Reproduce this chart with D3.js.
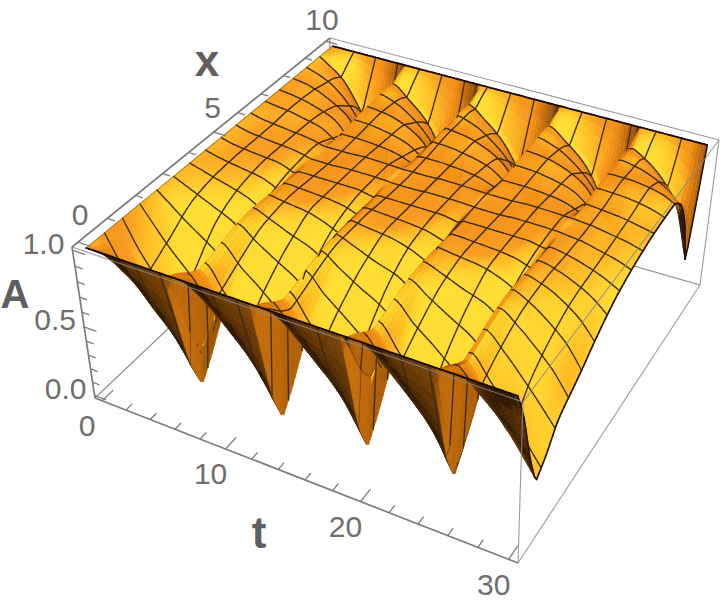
<!DOCTYPE html>
<html><head><meta charset="utf-8">
<style>html,body{margin:0;padding:0;background:#fff}svg{display:block}</style>
<script src="https://cdn.jsdelivr.net/npm/d3@7/dist/d3.min.js"></script>
</head><body><svg id="c" width="722" height="600"></svg>
<script>
const tSamples=[0,1,2,3.2,4.6,6,6.3,7.7,9.2,10.7,12.2,12.5,14,15.5,17.1,18.6,18.9,20.4,21.9,23.4,24.8,25.1,26.5,27.7,28.9,30];
const xSamples=[0,.3,.66,1,1.5,2,3,4,5,6,7,8,8.5,9,9.4,9.7,10];
const rowX00=[1,1,1,1,1,1,1,1,1,1,1,1,1,1,1,1,1,1,1,1,1,1,1,1,1,1];
const rowX03=[1,.92,.86,.8,.74,.66,.97,.88,.8,.74,.66,.97,.88,.8,.74,.66,.97,.88,.8,.74,.66,.97,.92,.88,.85,.82];
const rowX07=[1,.84,.74,.6,.46,.26,.92,.76,.62,.47,.26,.92,.76,.62,.47,.26,.92,.76,.62,.47,.26,.92,.8,.7,.6,.5];
const rowX10=[1,.82,.68,.5,.32,.05,.88,.7,.52,.32,.05,.88,.7,.52,.32,.05,.88,.7,.52,.32,.05,.88,.72,.58,.42,.26];
const rowX15=[1,.86,.74,.6,.45,.22,.9,.76,.63,.47,.22,.9,.76,.63,.47,.22,.9,.76,.63,.47,.22,.9,.78,.64,.48,.35];
const rowX20=[1,.9,.8,.7,.58,.42,.93,.82,.72,.6,.42,.93,.82,.72,.6,.42,.93,.82,.72,.6,.42,.93,.83,.72,.6,.47];
const rowX30=[1,.96,.92,.87,.81,.7,.96,.91,.85,.8,.7,.96,.91,.85,.8,.7,.96,.91,.85,.8,.7,.96,.9,.82,.72,.58];
const rowX40=[1,.98,.96,.94,.91,.85,.95,.94,.93,.9,.85,.95,.94,.93,.9,.85,.95,.94,.93,.9,.85,.95,.92,.87,.8,.7];
const rowX50=[1,.98,.97,.96,.95,.91,.93,.93,.93,.93,.91,.93,.93,.93,.93,.91,.93,.93,.93,.93,.91,.93,.91,.88,.84,.79];
const rowX60=[1,.98,.97,.96,.95,.93,.92,.92,.93,.93,.93,.92,.92,.93,.93,.93,.92,.92,.93,.93,.93,.92,.91,.89,.87,.84];
const rowX70=[1,.99,.98,.96,.93,.85,.93,.93,.92,.9,.85,.93,.93,.92,.9,.85,.93,.93,.92,.9,.85,.93,.92,.91,.89,.87];
const rowX80=[1,.99,.97,.93,.87,.72,.95,.94,.91,.85,.72,.95,.94,.91,.85,.72,.95,.94,.91,.85,.72,.95,.95,.94,.92,.88];
const rowX85=[1,.98,.95,.89,.78,.58,.95,.93,.87,.77,.58,.95,.93,.87,.77,.58,.95,.93,.87,.77,.58,.95,.94,.92,.88,.82];
const rowX90=[1,.97,.93,.84,.68,.42,.96,.91,.82,.67,.4,.96,.91,.82,.67,.4,.96,.91,.82,.67,.4,.96,.93,.87,.78,.62];
const rowX94=[1,.95,.89,.76,.56,.22,.95,.87,.76,.55,.2,.95,.87,.76,.55,.2,.95,.87,.76,.55,.2,.95,.89,.8,.65,.28];
const rowX97=[1,.98,.95,.88,.78,.62,.98,.94,.88,.78,.6,.98,.94,.88,.78,.6,.98,.94,.88,.78,.6,.98,.95,.9,.8,.64];
const rowX100=[1,1,1,1,1,1,1,1,1,1,1,1,1,1,1,1,1,1,1,1,1,1,1,1,1,1];
const tTicks=[0,2,4,6,8,10,12,14,16,18,20,22,24,26,28,30];
const xTicks=[0,1,2,3,4,5,6,7,8,9,10];
const aTicks=[0,.1,.2,.3,.4,.5,.6,.7,.8,.9,1];
const tLabels=[0,10,20,30], xLabels=[0,5,10], aLabels=[0,.5,1];

const rows=[rowX00,rowX03,rowX07,rowX10,rowX15,rowX20,rowX30,rowX40,rowX50,rowX60,rowX70,rowX80,rowX85,rowX90,rowX94,rowX97,rowX100];

// ---- scales and projection
const tS=d3.scaleLinear([-.6,30.6],[0,1]), xS=d3.scaleLinear([-.2,10.2],[0,1]), aS=d3.scaleLinear([1.02,-.02],[0,1]);
function quadH(p){ // unit square -> quad
  const [x0,y0]=p[0],[x1,y1]=p[1],[x2,y2]=p[2],[x3,y3]=p[3];
  const dx1=x1-x2,dx2=x3-x2,sx=x0-x1+x2-x3,dy1=y1-y2,dy2=y3-y2,sy=y0-y1+y2-y3;
  const den=dx1*dy2-dx2*dy1,g=(sx*dy2-dx2*sy)/den,h=(dx1*sy-sx*dy1)/den;
  const a=x1-x0+g*x1,b=x3-x0+h*x3,d=y1-y0+g*y1,e=y3-y0+h*y3;
  return (u,v)=>{const w=g*u+h*v+1;return [(a*u+b*v+x0)/w,(d*u+e*v+y0)/w];};
}
const topFace=quadH([[72,247],[523,402],[719,140],[330,38]]);
const botFace=quadH([[95,398],[518,563],[700,285],[327,178]]);
const wb=1.12;
function proj(t,x,A){
  const u=tS(t),v=xS(x),a=aS(A),p=topFace(u,v),q=botFace(u,v),k=a*wb/((1-a)+a*wb);
  return [p[0]+(q[0]-p[0])*k,p[1]+(q[1]-p[1])*k];
}
// monotone cubic through the read values; sharp at a local minimum (the cusps of the picture)
function pchip(xs,ys){
  const n=xs.length,h=[],m=[],dL=new Array(n),dR=new Array(n);
  for(let i=0;i<n-1;i++){h[i]=xs[i+1]-xs[i];m[i]=(ys[i+1]-ys[i])/h[i];}
  dL[0]=dR[0]=m[0];dL[n-1]=dR[n-1]=m[n-2];
  for(let i=1;i<n-1;i++){
    if(m[i-1]<0&&m[i]>0){dL[i]=m[i-1];dR[i]=m[i];}
    else if(m[i-1]*m[i]<=0){dL[i]=dR[i]=0;}
    else{const w1=2*h[i]+h[i-1],w2=h[i]+2*h[i-1];dL[i]=dR[i]=(w1+w2)/(w1/m[i-1]+w2/m[i]);}
  }
  return x=>{
    let i=d3.bisectRight(xs,x)-1;i=Math.max(0,Math.min(n-2,i));
    const s=(x-xs[i])/h[i],s2=s*s,s3=s2*s;
    return (2*s3-3*s2+1)*ys[i]+(s3-2*s2+s)*h[i]*dR[i]+(-2*s3+3*s2)*ys[i+1]+(s3-s2)*h[i]*dL[i+1];
  };
}
const rowF=rows.map(r=>pchip(tSamples,r));
const MESH=16,SUBT=8,SUBX=6,NT=MESH*SUBT,NX=MESH*SUBX;
const Z=.42,cam=[1.4,-1.1,3],L=[.5,-.45,.74];
const verts=[];
for(let i=0;i<=NT;i++){
  const t=30*i/NT,col=pchip(xSamples,rowF.map(f=>f(t))),line=[];
  for(let j=0;j<=NX;j++){
    const x=10*j/NX,A=col(x);
    line.push({p:proj(t,x,A),w:[tS(t),xS(x),Z*(1-aS(A))]});
  }
  verts.push(line);
}
const ramp=d3.scaleLinear().domain([0,.2,.45,.65,.78,.90,.98]).range(["#2e1804","#6e3c08","#c46c0c","#f08c14","#f89a1c","#ffc024","#ffdc30"]).clamp(true);
const dist=w=>Math.hypot(w[0]-cam[0],w[1]-cam[1],w[2]-cam[2]);
const mid=(...v)=>[0,1,2].map(k=>d3.mean(v,q=>q.w[k]));
const els=[];
const pth=ps=>"M"+ps.map(p=>p[0].toFixed(1)+","+p[1].toFixed(1)).join("L");
for(let i=0;i<NT;i++)for(let j=0;j<NX;j++){
  const a=verts[i][j],b=verts[i+1][j],c=verts[i+1][j+1],e=verts[i][j+1];
  const d1=[0,1,2].map(k=>c.w[k]-a.w[k]),d2=[0,1,2].map(k=>e.w[k]-b.w[k]);
  let n=[d2[1]*d1[2]-d2[2]*d1[1],d2[2]*d1[0]-d2[0]*d1[2],d2[0]*d1[1]-d2[1]*d1[0]];
  const len=Math.hypot(...n)||1;n=n.map(q=>q/len);
  if(n[2]<0)n=n.map(q=>-q);
  const nz=n[2];
  const m=mid(a,b,c,e),vw=[cam[0]-m[0],cam[1]-m[1],cam[2]-m[2]];
  let flip=false;
  if(n[0]*vw[0]+n[1]*vw[1]+n[2]*vw[2]<0){n=n.map(q=>-q);flip=true;}
  let s=Math.max(0,n[0]*L[0]+n[1]*L[1]+n[2]*L[2]);
  s*=flip?.85:Math.min(1,nz/.33);
  els.push({d:dist(m),path:pth([a.p,b.p,c.p,e.p])+"Z",fill:ramp(s)});
}
function seg(a,b,col,wd){els.push({d:dist(mid(a,b))-.014,path:pth([a.p,b.p]),stroke:col,wd});}
for(let i=0;i<=NT;i+=SUBT)for(let j=0;j<NX;j++){
  if(i===0)seg(verts[i][j],verts[i][j+1],"#8a5a10",.7);
  else if(i===NT)seg(verts[i][j],verts[i][j+1],"#241204",1.6);
  else seg(verts[i][j],verts[i][j+1],"#3b2a0c",1.3);
}
for(let j=0;j<=NX;j+=SUBX)for(let i=0;i<NT;i++){
  if(j===0||j===NX)seg(verts[i][j],verts[i+1][j],"#1a0c02",1.8);
  else seg(verts[i][j],verts[i+1][j],"#3b2a0c",1.3);
}
els.sort((p,q)=>q.d-p.d);

const svg=d3.select("#c");
const boxCol="#8a8a8a",axCol="#7d7d7d";
const T0=-.6,T1=30.6,X0=-.2,X1=10.2,A0=-.02,A1=1.02;
const edge=(a,b)=>({a,b});
const behind=[edge([T0,X0,A0],[T0,X1,A0]),edge([T0,X1,A0],[T1,X1,A0]),edge([T0,X1,A0],[T0,X1,A1])];
const front=[edge([T0,X1,A1],[T1,X1,A1]),edge([T1,X1,A1],[T1,X0,A1]),edge([T0,X0,A1],[T1,X0,A1]),
             edge([T1,X0,A0],[T1,X0,A1]),edge([T1,X1,A0],[T1,X1,A1]),edge([T1,X0,A0],[T1,X1,A0])];
const axes=[edge([T0,X0,A0],[T1,X0,A0]),edge([T0,X0,A1],[T0,X1,A1]),edge([T0,X0,A0],[T0,X0,A1])];
const drawEdges=(g,list,col,w)=>g.selectAll("path").data(list).join("path")
  .attr("d",e=>pth([proj(...e.a),proj(...e.b)])).attr("stroke",col).attr("stroke-width",w).attr("fill","none");
drawEdges(svg.append("g"),behind,boxCol,1.1);
svg.append("g").selectAll("path").data(els).join("path")
  .attr("d",e=>e.path)
  .attr("fill",e=>e.fill||"none")
  .attr("stroke",e=>e.stroke||e.fill)
  .attr("stroke-width",e=>e.wd||.5)
  .attr("stroke-linecap","round");
drawEdges(svg.append("g").attr("opacity",.85),front,boxCol,1.1);
drawEdges(svg.append("g"),axes,axCol,1.7);
// ticks
const tickG=svg.append("g").attr("stroke",axCol).attr("stroke-width",1.3);
const tk=(pts)=>tickG.selectAll(null).data(pts).join("path").attr("d",q=>pth([proj(...q[0]),proj(...q[1])]));
tk(tTicks.map(t=>{const l=t%10===0?.42:.24;return [[t,X0,A0],[t,X0+l,A0]];}));
tk(xTicks.map(x=>{const l=x%5===0?1.0:.6;return [[T0,x,A1],[T0+l,x,A1]];}));
tk(aTicks.map(a=>{const l=(Math.round(a*10)%5===0)?1.0:.6;return [[T0,X0,a],[T0+l,X0,a]];}));
// labels
const txt=(x,y,s,sz,b)=>svg.append("text").attr("x",x).attr("y",y).attr("text-anchor","middle").attr("dominant-baseline","central")
  .attr("font-family","'Liberation Sans',Arial,sans-serif").attr("font-size",sz).attr("font-weight",b?"bold":"normal").attr("fill",b?"#5f5f5f":"#6e6e6e").text(s);
tLabels.forEach(t=>{const p=proj(t,X0,A0);txt(p[0]-15,p[1]+25,String(t),30);});
xLabels.forEach(x=>{const p=proj(T0,x,A1);txt(p[0]+2-x*.6,p[1]-28+x*.6,String(x),30);});
aLabels.forEach(a=>{const p=proj(T0,X0,a);txt(p[0]-29,p[1]-7,d3.format(".1f")(a),30);});
txt(207,60,"x",44,true);txt(15,294,"A",40,true);txt(259,532,"t",44,true);
</script></body></html>
